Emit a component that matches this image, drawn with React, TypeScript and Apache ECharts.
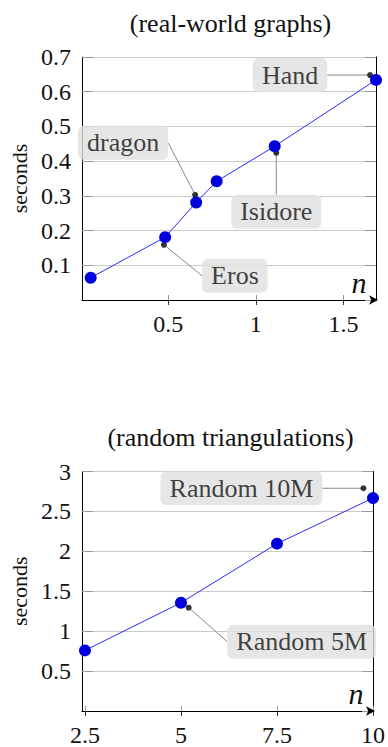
import React, { useEffect, useRef } from "react";
import * as echarts from "echarts";

// ---- data: real-world graphs ----
const topX = [0.058, 0.483, 0.66, 0.777, 1.108, 1.686];
const topY = [0.064, 0.181, 0.281, 0.342, 0.443, 0.634];
const topRefNames = ["Eros", "dragon", "Isidore", "Hand"];
const topRefX = [0.476, 0.654, 1.117, 1.652];
const topRefY = [0.159, 0.303, 0.424, 0.648];
const topXTicks = [0.5, 1, 1.5];

// ---- data: random triangulations ----
const botX = [2.5, 5, 7.5, 10];
const botY = [0.759, 1.356, 2.096, 2.667];
const botRefNames = ["Random 5M", "Random 10M"];
const botRefX = [5.2, 9.75];
const botRefY = [1.294, 2.79];
const botXTicks = [2.5, 5, 7.5, 10];

// label offsets (layout, px)
const topLabelOffsets = [
  [71, 31],
  [-72, -52],
  [0, 59],
  [-80, 0],
];
const botLabelOffsets = [
  [113, 34],
  [-122, 0],
];

const FONT = "Liberation Serif";
const BLUE = "#0000dd";
const LINE_BLUE = "#2a2aff";

export default function App() {
  const ref = useRef<HTMLDivElement>(null);

  useEffect(() => {
    if (!ref.current) return;
    const chart = echarts.init(ref.current, undefined, { renderer: "svg" });

    const plotLeft = 75;
    const plotW = 301;
    const plotH = 243;
    const tops = [57, 471.5];

    const xAxisBase = (gi: number, min: number, max: number, ticks: number[]) => [
      {
        type: "value",
        gridIndex: gi,
        min,
        max,
        position: "bottom",
        name: "n",
        nameLocation: "end",
        nameGap: -17,
        nameTextStyle: {
          fontFamily: FONT,
          fontStyle: "italic",
          fontSize: 30,
          color: "#111",
          align: "center",
          verticalAlign: "bottom",
          padding: [0, 0, 3, 0],
        },
        axisLine: {
          show: true,
          lineStyle: { color: "#000", width: 1 },
          symbol: ["none", "arrow"],
          symbolSize: [7, 9],
          symbolOffset: [0, 2],
        },
        axisTick: {
          show: true,
          customValues: ticks,
          length: 5,
          lineStyle: { color: "#333" },
        },
        axisLabel: {
          show: true,
          customValues: ticks,
          margin: 12,
          fontFamily: FONT,
          fontSize: 24,
          color: "#111",
        },
        splitLine: { show: false },
      },
      {
        type: "value",
        gridIndex: gi,
        min,
        max,
        position: "bottom",
        axisLine: { show: false },
        axisTick: {
          show: true,
          inside: true,
          customValues: ticks,
          length: 5,
          lineStyle: { color: "#999" },
        },
        axisLabel: { show: false },
        splitLine: { show: false },
      },
    ];

    const yAxisPair = (gi: number, max: number, interval: number) => [
      {
        type: "value",
        gridIndex: gi,
        min: 0,
        max,
        interval,
        position: "left",
        name: "seconds",
        nameLocation: "middle",
        nameGap: 43,
        nameRotate: 90,
        nameTextStyle: { fontFamily: FONT, fontSize: 22, color: "#111" },
        axisLine: { show: true, lineStyle: { color: "#000", width: 1 } },
        axisTick: { show: true, inside: true, length: 11, lineStyle: { color: "#999" } },
        axisLabel: {
          show: true,
          showMinLabel: false,
          margin: 11,
          fontFamily: FONT,
          fontSize: 24,
          color: "#111",
        },
        splitLine: { show: true, lineStyle: { color: "#cacaca", width: 1 } },
      },
      {
        type: "value",
        gridIndex: gi,
        min: 0,
        max,
        interval,
        position: "right",
        axisLine: { show: true, lineStyle: { color: "#000", width: 1 } },
        axisTick: { show: true, inside: true, length: 11, lineStyle: { color: "#999" } },
        axisLabel: { show: false },
        splitLine: { show: false },
      },
    ];

    const refSeries = (
      xi: number,
      yi: number,
      names: string[],
      xs: number[],
      ys: number[],
      offsets: number[][]
    ) => ({
      type: "scatter",
      xAxisIndex: xi,
      yAxisIndex: yi,
      z: 2,
      symbol: "circle",
      symbolSize: 6,
      itemStyle: { color: "#000" },
      data: names.map((n, i) => ({ name: n, value: [xs[i], ys[i]] })),
      label: {
        show: true,
        position: "inside",
        formatter: "{b}",
        fontFamily: FONT,
        fontSize: 26,
        lineHeight: 26,
        color: "#111",
        backgroundColor: "#e0e0e0",
        borderRadius: 6,
        padding: [4, 9],
      },
      labelLine: { show: true, lineStyle: { color: "#888", width: 1 } },
      labelLayout: (p: any) => ({ dx: offsets[p.dataIndex][0], dy: offsets[p.dataIndex][1] }),
    });

    const lineSeries = (xi: number, yi: number, xs: number[], ys: number[]) => ({
      type: "line",
      xAxisIndex: xi,
      yAxisIndex: yi,
      z: 3,
      symbol: "circle",
      symbolSize: 12,
      showAllSymbol: true,
      itemStyle: { color: BLUE },
      lineStyle: { color: LINE_BLUE, width: 1 },
      data: xs.map((x, i) => [x, ys[i]]),
    });

    chart.setOption({
      animation: false,
      backgroundColor: "#fff",
      textStyle: { fontFamily: FONT },
      title: [
        {
          text: "(real-world graphs)",
          left: plotLeft + plotW / 2,
          textAlign: "center",
          top: 5,
          textStyle: { fontFamily: FONT, fontSize: 26, fontWeight: "normal", color: "#111" },
        },
        {
          text: "(random triangulations)",
          left: plotLeft + plotW / 2,
          textAlign: "center",
          top: 419,
          textStyle: { fontFamily: FONT, fontSize: 26, fontWeight: "normal", color: "#111" },
        },
      ],
      grid: tops.map((t) => ({ left: plotLeft, top: t, width: plotW, height: plotH })),
      xAxis: [
        ...xAxisBase(0, 0.008, 1.686, topXTicks),
        ...xAxisBase(1, 2.42, 10, botXTicks),
      ],
      yAxis: [...yAxisPair(0, 0.7, 0.1), ...yAxisPair(1, 3, 0.5)],
      series: [
        refSeries(0, 0, topRefNames, topRefX, topRefY, topLabelOffsets),
        lineSeries(0, 0, topX, topY),
        refSeries(2, 2, botRefNames, botRefX, botRefY, botLabelOffsets),
        lineSeries(2, 2, botX, botY),
      ],
    });

    return () => chart.dispose();
  }, []);

  return (
    <div
      ref={ref}
      style={{ position: "absolute", left: 0, top: 0, width: 388, height: 747 }}
    />
  );
}
